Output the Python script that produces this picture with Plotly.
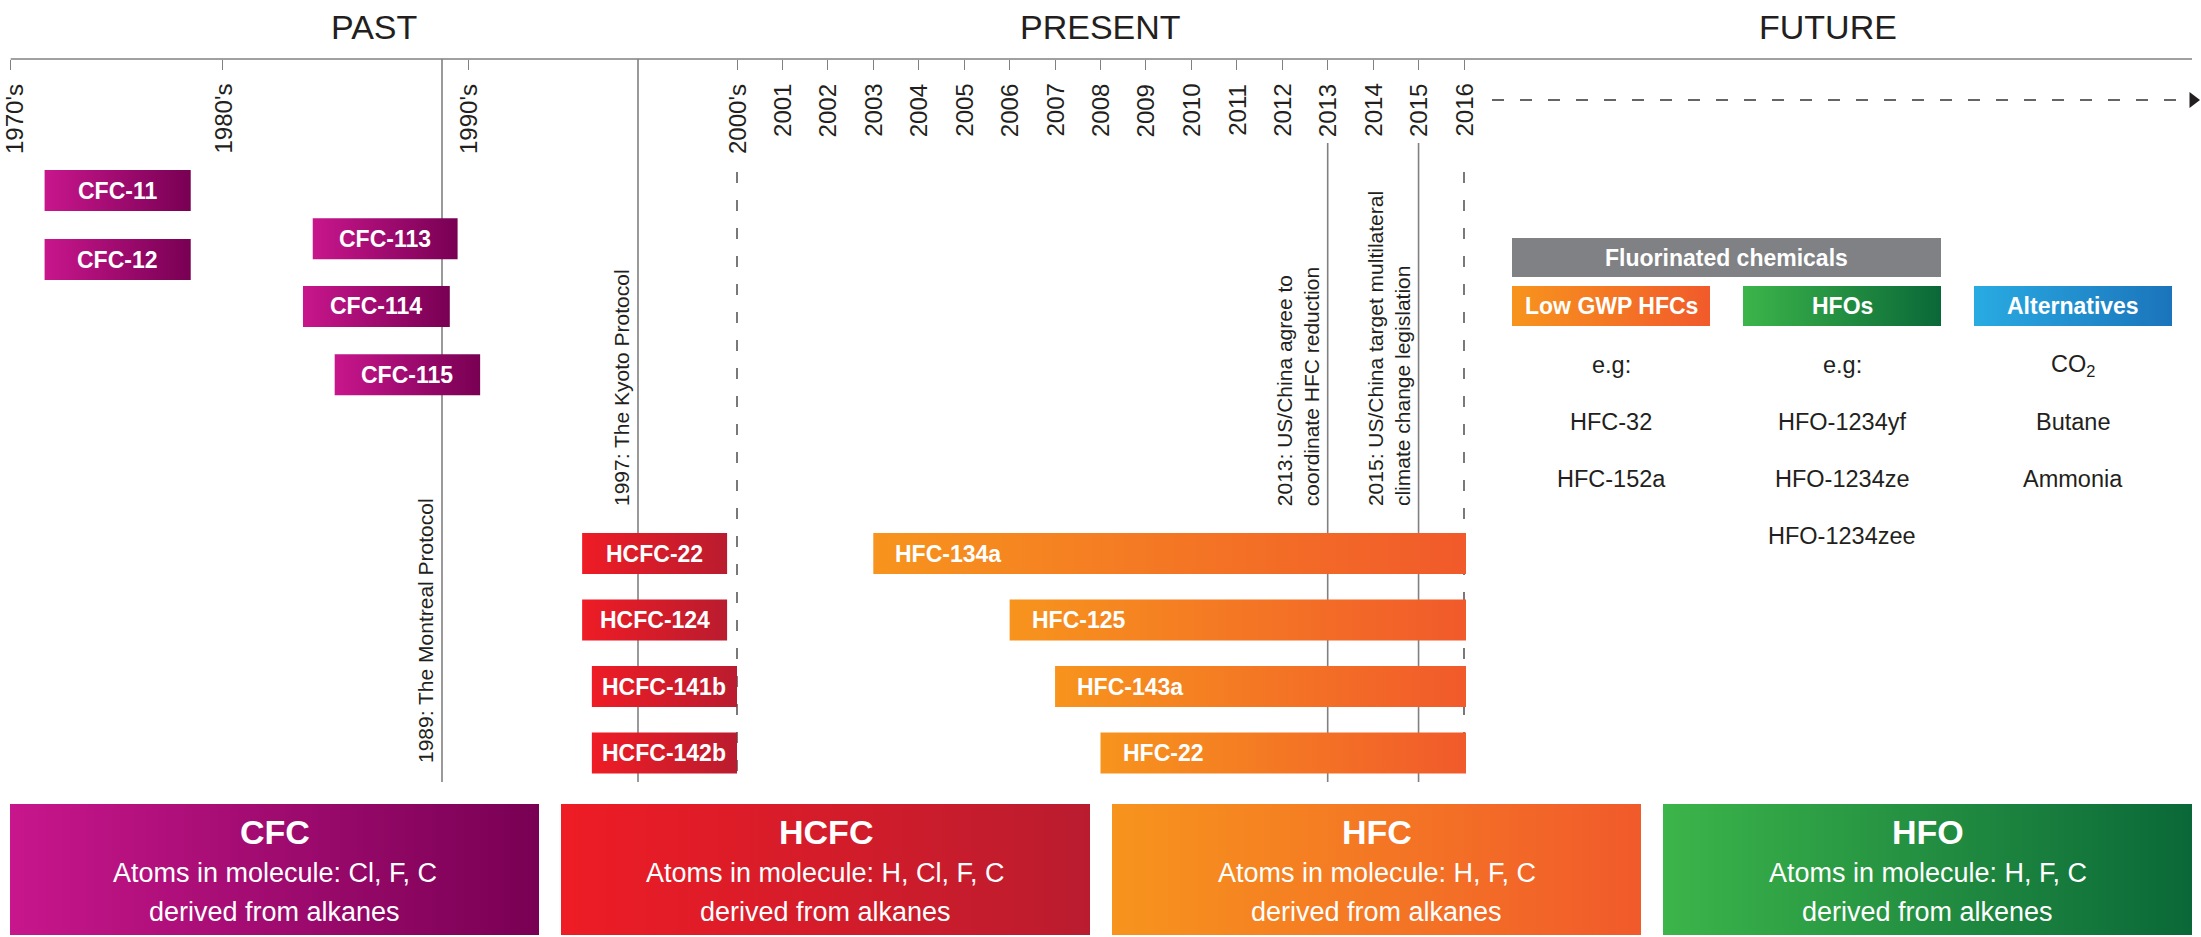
import numpy as np
import plotly.graph_objects as go

# ======================= DATA =======================
tick_years = [1970, 1980, 1990, 2000, 2001, 2002, 2003, 2004, 2005, 2006, 2007,
              2008, 2009, 2010, 2011, 2012, 2013, 2014, 2015, 2016]
tick_labels = ["1970's", "1980's", "1990's", "2000's", "2001", "2002", "2003",
               "2004", "2005", "2006", "2007", "2008", "2009", "2010", "2011",
               "2012", "2013", "2014", "2015", "2016"]

period_names = ["PAST", "PRESENT", "FUTURE"]
period_start = [1970, 2000, 2016]
period_end = [2000, 2016, None]          # None -> open ended (future)

cfc_names = ["CFC-11", "CFC-12", "CFC-113", "CFC-114", "CFC-115"]
cfc_start = [1971.6, 1971.6, 1983.7, 1983.3, 1984.6]
cfc_end = [1978.5, 1978.5, 1989.6, 1989.3, 1990.5]
cfc_row = [0, 1, 0.7, 1.68, 2.67]

hcfc_names = ["HCFC-22", "HCFC-124", "HCFC-141b", "HCFC-142b"]
hcfc_start = [1994.7, 1994.7, 1995.1, 1995.1]
hcfc_end = [1999.7, 1999.7, 2000.0, 2000.0]
hcfc_row = [0, 1, 2, 3]

hfc_names = ["HFC-134a", "HFC-125", "HFC-143a", "HFC-22"]
hfc_start = [2003, 2006, 2007, 2008]
hfc_end = [2016, 2016, 2016, 2016]
hfc_row = [0, 1, 2, 3]

event_years = [1989, 1997, 2013, 2015]
event_texts = ["1989: The Montreal Protocol",
               "1997: The Kyoto Protocol",
               "2013: US/China agree to<br>coordinate HFC reduction",
               "2015: US/China target multilateral<br>climate change legislation"]

boundary_years = [2000, 2016]

fluorinated_label = "Fluorinated chemicals"
future_groups = ["Low GWP HFCs", "HFOs", "Alternatives"]
future_examples = [["e.g:", "HFC-32", "HFC-152a"],
                   ["e.g:", "HFO-1234yf", "HFO-1234ze", "HFO-1234zee"],
                   ["CO<sub>2</sub>", "Butane", "Ammonia"]]

class_names = ["CFC", "HCFC", "HFC", "HFO"]
class_atoms = ["Cl, F, C", "H, Cl, F, C", "H, F, C", "H, F, C"]
class_source = ["alkanes", "alkanes", "alkanes", "alkenes"]

# ======================= STYLE / LAYOUT =======================
W, H = 2201, 937
FONT = "Liberation Sans, Arial, Helvetica, sans-serif"
INK = "#231F20"
GREY = "#808080"
WHITE = "#FFFFFF"

GRAD = {
    "CFC": ["#C8168C", "#780053"],
    "HCFC": ["#EE1C25", "#BA1C2F"],
    "HFC": ["#F7941D", "#F15A2B"],
    "HFO": ["#3CB54A", "#0A6838"],
    "ALT": ["#29ABE2", "#1B74BB"],
}
FLUOR_GREY = "#808184"

# timeline scale (schematic, piecewise linear: year -> horizontal position)
SCALE_YEARS = [1970, 1980, 1989, 1990, 1997, 2000, 2016]
SCALE_POS = [10.7, 222.5, 442, 468, 638, 737, 1464]
X_END = 2192
AXIS_Y = 59


def X(year):
    return float(np.interp(year, SCALE_YEARS, SCALE_POS))


# vertical lane scale
CFC_Y0, CFC_STEP = 190.5, 69.0
LOW_Y0, LOW_STEP = 553.5, 66.5
BAR_H = 41


def lane_cfc(r):
    return CFC_Y0 + r * CFC_STEP


def lane_low(r):
    return LOW_Y0 + r * LOW_STEP


fig = go.Figure()
annotations = []


def gradient_rect(x0, x1, y0, y1, colors):
    fig.add_trace(go.Scatter(
        x=[x0, x1, x1, x0, x0], y=[y0, y0, y1, y1, y0],
        mode="lines", fill="toself", line=dict(width=0, color=colors[0]),
        fillgradient=dict(type="horizontal",
                          colorscale=[[0, colors[0]], [1, colors[1]]]),
        hoverinfo="skip", showlegend=False))


def solid_rect(x0, x1, y0, y1, color):
    fig.add_trace(go.Scatter(
        x=[x0, x1, x1, x0, x0], y=[y0, y0, y1, y1, y0],
        mode="lines", fill="toself", fillcolor=color,
        line=dict(width=0, color=color),
        hoverinfo="skip", showlegend=False))


def text(x, y, s, size, color=INK, bold=False, **kw):
    d = dict(x=x, y=y, xref="x", yref="y", text=s, showarrow=False,
             font=dict(family=FONT, size=size, color=color,
                       weight="bold" if bold else "normal"))
    d.update(kw)
    annotations.append(d)


LINE_BOTTOM = 782

# ---- timeline axis line ----
fig.add_trace(go.Scatter(x=[SCALE_POS[0], X_END], y=[AXIS_Y, AXIS_Y], mode="lines",
                         line=dict(color=GREY, width=1.6),
                         hoverinfo="skip", showlegend=False))

# ---- tick labels (rotated, hanging below the axis) ----
LABEL_HALF = 14   # keep the first label inside the page
for yr, lab in zip(tick_years, tick_labels):
    text(max(X(yr), LABEL_HALF), AXIS_Y + 23, lab, 24, xanchor="center",
         yanchor="top", textangle=-90)

# ---- event lines (solid) ----
event_line_top = [AXIS_Y, AXIS_Y, 143, 143]
event_text_bottom = [765, 508, 508, 508]
for yr, txt, top, bot in zip(event_years, event_texts, event_line_top, event_text_bottom):
    fig.add_trace(go.Scatter(x=[X(yr), X(yr)], y=[top, LINE_BOTTOM], mode="lines",
                             line=dict(color=GREY, width=1.6),
                             hoverinfo="skip", showlegend=False))
    text(X(yr) - 3, bot, txt, 21, xanchor="right", yanchor="bottom",
         textangle=-90, align="left")

# ---- boundary dashed lines ----
for yr in boundary_years:
    fig.add_trace(go.Scatter(x=[X(yr), X(yr)], y=[172, LINE_BOTTOM], mode="lines",
                             line=dict(color=INK, width=1.2, dash="11px,17px"),
                             hoverinfo="skip", showlegend=False))

# ---- future arrow ----
fig.add_trace(go.Scatter(x=[X(2016) + 28, X_END - 4], y=[100, 100], mode="lines",
                         line=dict(color="#333333", width=1.3, dash="12px,16px"),
                         hoverinfo="skip", showlegend=False))
fig.add_trace(go.Scatter(x=[X_END + 1], y=[100], mode="markers", cliponaxis=False,
                         marker=dict(symbol="triangle-right", size=14, color=INK),
                         hoverinfo="skip", showlegend=False))

# ---- period titles ----
for name, s, e in zip(period_names, period_start, period_end):
    xe = X_END if e is None else X(e)
    text((X(s) + xe) / 2, 27, name, 34)

# ---- CFC bars ----
for n, s, e, r in zip(cfc_names, cfc_start, cfc_end, cfc_row):
    yc = lane_cfc(r)
    gradient_rect(X(s), X(e), yc - BAR_H / 2, yc + BAR_H / 2, GRAD["CFC"])
    text((X(s) + X(e)) / 2, yc, n, 23, WHITE, True)

# ---- HCFC bars ----
for n, s, e, r in zip(hcfc_names, hcfc_start, hcfc_end, hcfc_row):
    yc = lane_low(r)
    gradient_rect(X(s), X(e), yc - BAR_H / 2, yc + BAR_H / 2, GRAD["HCFC"])
    text((X(s) + X(e)) / 2, yc, n, 23, WHITE, True)

# ---- HFC bars ----
for n, s, e, r in zip(hfc_names, hfc_start, hfc_end, hfc_row):
    yc = lane_low(r)
    gradient_rect(X(s), X(e) + 2, yc - BAR_H / 2, yc + BAR_H / 2, GRAD["HFC"])
    text(X(s) + 20, yc, n, 23, WHITE, True, xanchor="left")

# ---- future alternatives panel ----
COL_X0, COL_W, COL_GAP = 1512, 198, 33
col_left = [COL_X0 + i * (COL_W + COL_GAP) for i in range(3)]
solid_rect(col_left[0], col_left[1] + COL_W, 238, 277, FLUOR_GREY)
text((col_left[0] + col_left[1] + COL_W) / 2, 257.5, fluorinated_label, 23, WHITE, True)
grad_keys = ["HFC", "HFO", "ALT"]
for i, (g, ex) in enumerate(zip(future_groups, future_examples)):
    x0 = col_left[i]
    gradient_rect(x0, x0 + COL_W, 286, 326, GRAD[grad_keys[i]])
    text(x0 + COL_W / 2, 306, g, 23, WHITE, True)
    for j, item in enumerate(ex):
        text(x0 + COL_W / 2, 365 + j * 57, item, 23.5)

# ---- bottom class boxes ----
BX0, BGAP = 10, 22
BW = (X_END - BX0 - 3 * BGAP) / 4
for i, (n, a, src) in enumerate(zip(class_names, class_atoms, class_source)):
    x0 = BX0 + i * (BW + BGAP)
    gradient_rect(x0, x0 + BW, 804, 935, GRAD[n])
    cx = x0 + BW / 2
    text(cx, 832, n, 34, WHITE, True)
    text(cx, 873, "Atoms in molecule: " + a, 27, WHITE)
    text(cx, 912, "derived from " + src, 27, WHITE)

fig.update_layout(
    width=W, height=H, margin=dict(l=0, r=0, t=0, b=0),
    paper_bgcolor="white", plot_bgcolor="white",
    showlegend=False, annotations=annotations,
    xaxis=dict(range=[0, W], domain=[0, 1],
               anchor="free", position=1 - AXIS_Y / H,
               side="top", showline=False,
               ticks="inside", ticklen=10, tickwidth=1.2, tickcolor=GREY,
               tickvals=[X(y) for y in tick_years], showticklabels=False,
               showgrid=False, zeroline=False, fixedrange=True),
    yaxis=dict(range=[H, 0], domain=[0, 1],
               visible=False, showgrid=False, zeroline=False, fixedrange=True),
)

fig.write_html("out.html", config={"displayModeBar": False},
               post_script="document.body.style.margin='0';document.body.style.overflow='hidden';")
